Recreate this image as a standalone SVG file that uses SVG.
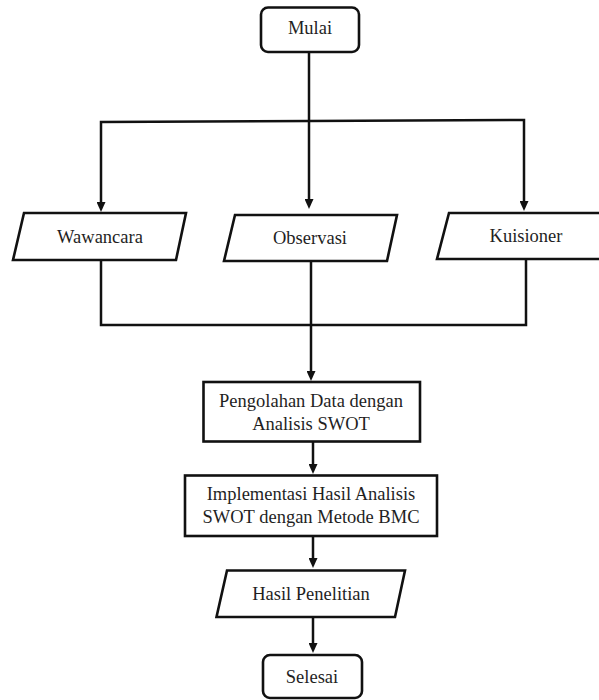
<svg xmlns="http://www.w3.org/2000/svg" width="599" height="700" viewBox="0 0 599 700">
  <defs>
    <style>
      .shape { fill: #ffffff; stroke: #111111; stroke-width: 2.6; stroke-linejoin: miter; }
      .conn { fill: none; stroke: #111111; stroke-width: 2.5; }
      .lbl { font-size: 18.5px; fill: #1f1f1f; text-anchor: middle; }
    </style>
    <marker id="arrow" markerUnits="userSpaceOnUse" markerWidth="10" markerHeight="9" refX="3" refY="4.5" orient="auto">
      <path d="M0,0 L10,4.5 L0,9 Z" fill="#111111"/>
    </marker>
  </defs>
  <rect width="599" height="700" fill="#ffffff"/>

  <g id="connectors">
    <path class="conn" d="M309,52 L309,202" marker-end="url(#arrow)"/>
    <path class="conn" d="M309,121 L101,122 L101,205" marker-end="url(#arrow)"/>
    <path class="conn" d="M309,121 L524,120 L524,204" marker-end="url(#arrow)"/>
    <path class="conn" d="M101,260 L101,325 L526,325 L526,259"/>
    <path class="conn" d="M311,261 L311,374" marker-end="url(#arrow)"/>
    <path class="conn" d="M313,442 L313,467" marker-end="url(#arrow)"/>
    <path class="conn" d="M313,536 L313,561" marker-end="url(#arrow)"/>
    <path class="conn" d="M313,617 L313,646" marker-end="url(#arrow)"/>
  </g>

  <g font-family="'Liberation Serif', 'DejaVu Serif', serif">
  <g id="mulai">
    <rect class="shape" x="261" y="7.5" width="98" height="44.5" rx="7" ry="7"/>
    <text class="lbl" x="310" y="34">Mulai</text>
  </g>

  <g id="wawancara">
    <polygon class="shape" points="24,213 186,213 176,260 13,260"/>
    <text class="lbl" x="100" y="243">Wawancara</text>
  </g>

  <g id="observasi">
    <polygon class="shape" points="235,215 397,215 387,261 224,261"/>
    <text class="lbl" x="310" y="244">Observasi</text>
  </g>

  <g id="kuisioner">
    <polygon class="shape" points="449,213 611,213 600,259 437,259"/>
    <text class="lbl" x="526" y="242">Kuisioner</text>
  </g>

  <g id="pengolahan">
    <rect class="shape" x="203.5" y="382" width="216.5" height="59.5"/>
    <text class="lbl" x="311" y="407">Pengolahan Data dengan</text>
    <text class="lbl" x="311" y="430">Analisis SWOT</text>
  </g>

  <g id="implementasi">
    <rect class="shape" x="185" y="475.5" width="252" height="60.5"/>
    <text class="lbl" x="311" y="500">Implementasi Hasil Analisis</text>
    <text class="lbl" x="311" y="523">SWOT dengan Metode BMC</text>
  </g>

  <g id="hasil">
    <polygon class="shape" points="227,570.5 405,570.5 395,617 216.5,617"/>
    <text class="lbl" x="311" y="600">Hasil Penelitian</text>
  </g>

  <g id="selesai">
    <rect class="shape" x="263" y="655" width="99" height="43" rx="7" ry="7"/>
    <text class="lbl" x="312" y="683">Selesai</text>
  </g>
  </g>
</svg>
